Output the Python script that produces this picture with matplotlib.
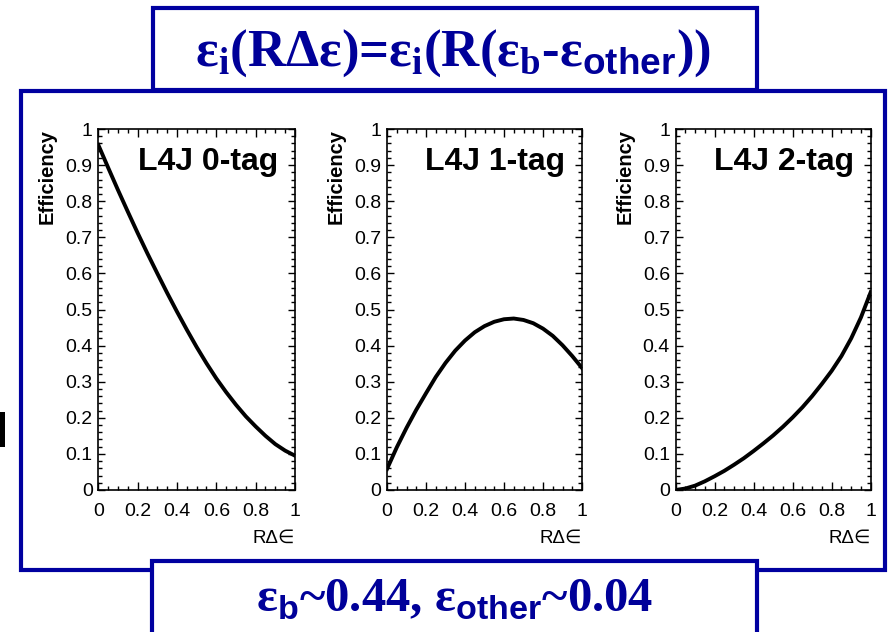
import matplotlib
matplotlib.use('Agg')
from matplotlib import pyplot as plt
from matplotlib.patches import Rectangle
from matplotlib.ticker import MultipleLocator

# Data (x = R*delta eps)
r_deps = [0.0, 0.05, 0.1, 0.15, 0.2, 0.25, 0.3, 0.35, 0.4, 0.45, 0.5,
          0.55, 0.6, 0.65, 0.7, 0.75, 0.8, 0.85, 0.9, 0.95, 1.0]
eff_0tag = [0.956, 0.893, 0.831, 0.771, 0.712, 0.655, 0.600, 0.546, 0.494, 0.444, 0.396,
            0.351, 0.309, 0.271, 0.236, 0.204, 0.176, 0.150, 0.127, 0.109, 0.095]
eff_1tag = [0.058, 0.118, 0.172, 0.222, 0.268, 0.313, 0.352, 0.386, 0.414, 0.437, 0.454,
            0.466, 0.473, 0.475, 0.471, 0.462, 0.447, 0.427, 0.401, 0.371, 0.338]
eff_2tag = [0.0, 0.004, 0.012, 0.024, 0.038, 0.053, 0.070, 0.088, 0.108, 0.129, 0.151,
            0.175, 0.201, 0.229, 0.260, 0.294, 0.330, 0.371, 0.420, 0.478, 0.548]
panel_titles = ['L4J 0-tag', 'L4J 1-tag', 'L4J 2-tag']
curves = [eff_0tag, eff_1tag, eff_2tag]

top_text = r'ε$_\mathregular{i}$(RΔε)=ε$_\mathregular{i}$(R(ε$_\mathregular{b}$-ε$_\mathsf{other}$))'
bottom_text = r'ε$_\mathsf{b}$~0.44, ε$_\mathsf{other}$~0.04'

plt.rcParams['mathtext.fontset'] = 'custom'
plt.rcParams['mathtext.rm'] = 'Liberation Serif:bold'
plt.rcParams['mathtext.sf'] = 'Liberation Sans:bold'
plt.rcParams['font.family'] = ['Liberation Sans', 'DejaVu Sans']

W, H = 889, 632
fig = plt.figure(figsize=(W / 100, H / 100), dpi=100)

blue = '#0000A0'
text_blue = '#000099'

# helper: pixel box -> figure fraction
def px_rect(x0, y0, x1, y1):
    return (x0 / W, 1 - y1 / H), (x1 - x0) / W, (y1 - y0) / H

# big frame around the three plots
xy, w, h = px_rect(21, 91, 885, 570)
fig.add_artist(Rectangle(xy, w, h, transform=fig.transFigure, fill=False,
                         edgecolor=blue, linewidth=3, zorder=1))
# top box
xy, w, h = px_rect(153, 8, 757, 90)
fig.add_artist(Rectangle(xy, w, h, transform=fig.transFigure, facecolor='white',
                         edgecolor=blue, linewidth=3, zorder=2))
# bottom box (runs off the bottom edge)
xy, w, h = px_rect(152, 561, 757, 640)
fig.add_artist(Rectangle(xy, w, h, transform=fig.transFigure, facecolor='white',
                         edgecolor=blue, linewidth=3, zorder=2))
# stray black mark on the left edge
xy, w, h = px_rect(0, 412, 5, 447)
fig.add_artist(Rectangle(xy, w, h, transform=fig.transFigure, facecolor='black',
                         edgecolor='none', zorder=2))

fig.text(453 / W, 1 - 66 / H, top_text, ha='center', va='baseline', fontsize=38,
         family='Liberation Serif', weight='bold', color=text_blue, zorder=3)
fig.text(455 / W, 1 - 612 / H, bottom_text, ha='center', va='baseline', fontsize=35,
         family='Liberation Serif', weight='bold', color=text_blue, zorder=3)

# axes positions in pixels (left, right)
lefts = [98.3, 387, 675.5]
rights = [295, 582, 870.7]
ax_bottom = 490
ax_top = 129

for i in range(3):
    ax = fig.add_axes([lefts[i] / W, 1 - ax_bottom / H, (rights[i] - lefts[i]) / W,
                       (ax_bottom - ax_top) / H])
    ax.plot(r_deps, curves[i], color='black', linewidth=2.8, solid_joinstyle='round')
    ax.set_xlim(0, 1)
    ax.set_ylim(0, 1)
    ax.xaxis.set_minor_locator(MultipleLocator(0.05))
    ax.yaxis.set_minor_locator(MultipleLocator(0.02))
    ax.set_xticks([0, 0.2, 0.4, 0.6, 0.8, 1.0])
    ax.set_xticklabels(['0', '0.2', '0.4', '0.6', '0.8', '1'])
    ax.set_yticks([0, 0.1, 0.2, 0.3, 0.4, 0.5, 0.6, 0.7, 0.8, 0.9, 1.0])
    ax.set_yticklabels(['0', '0.1', '0.2', '0.3', '0.4', '0.5', '0.6', '0.7', '0.8', '0.9', '1'])
    ax.tick_params(which='both', direction='in', top=True, right=True, width=1)
    ax.tick_params(axis='x', which='major', length=6, pad=9, labelsize=14)
    ax.tick_params(axis='x', which='minor', length=3)
    ax.tick_params(axis='y', which='major', length=5, pad=4, labelsize=14)
    ax.tick_params(axis='y', which='minor', length=3)
    for s in ax.spines.values():
        s.set_linewidth(1.2)
    ax.set_ylabel('Efficiency', loc='top', fontsize=14.5, weight='bold')
    ax.yaxis.set_label_coords(-0.21, 1.0)
    ax.set_xlabel('RΔ∈', loc='right', fontsize=13.5)
    ax.xaxis.set_label_coords(1.0, -0.11)
    ax.text(0.915, 0.886, panel_titles[i], transform=ax.transAxes, ha='right',
            va='baseline', fontsize=23, weight='bold')

plt.savefig('out.png', dpi=100)
